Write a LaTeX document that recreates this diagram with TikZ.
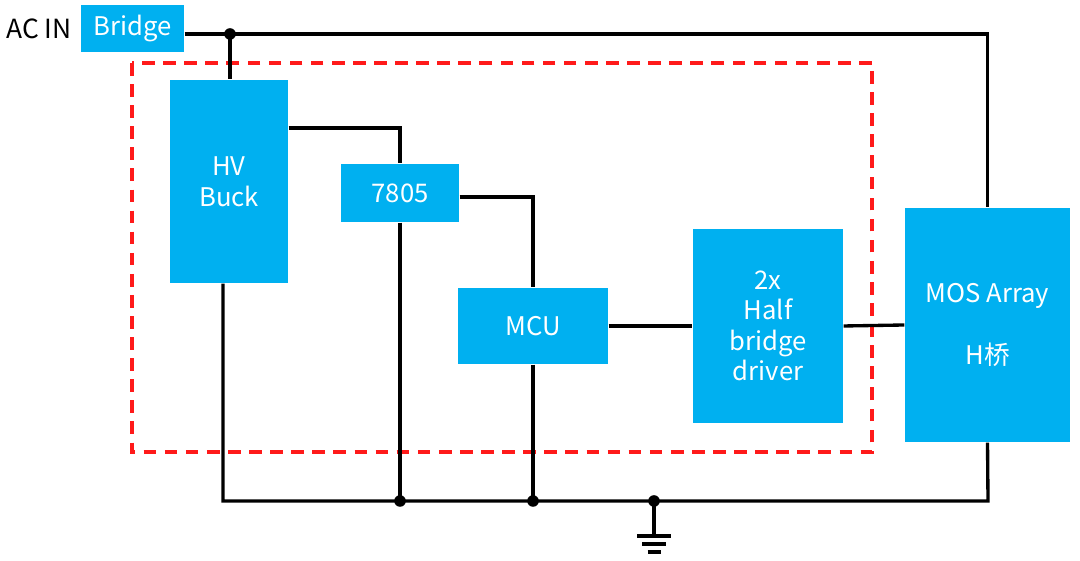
\documentclass[tikz,border=0pt]{standalone}
\usepackage{fontspec}
\setmainfont{Noto Sans CJK SC}
\usetikzlibrary{positioning}
\definecolor{boxblue}{HTML}{00B0F0}
\definecolor{frame}{HTML}{FF1A1A}
\tikzset{
  block/.style={fill=boxblue, text=white, align=center, inner sep=0pt,
    font=\fontsize{7.3}{8.7}\selectfont},
  wire/.style={line width=0.95pt, black},
  jdot/.style={fill=black, radius=0.058},
}

\begin{document}
\begin{tikzpicture}
    \useasboundingbox (0,0) rectangle (10.8,5.61);
    % dashed frame around the control board
    \draw[frame, line width=0.9pt, dash pattern=on 3.6pt off 2.4pt] (1.32,4.98) rectangle (8.72,1.09);

    % blocks
    \node[block, minimum width=1.03cm, minimum height=0.47cm] (bridge) at (1.325,5.325) {Bridge};
    \node[left=0.08cm of bridge, inner sep=0pt, font=\fontsize{7.5}{8.7}\selectfont] (acin) {AC IN};
    \node[block, minimum width=1.18cm, minimum height=2.03cm] (buck) at (2.29,3.795) {HV\\Buck};
    \node[block, minimum width=1.18cm, minimum height=0.58cm] (reg) at (4.00,3.68) {7805};
    \node[block, minimum width=1.50cm, minimum height=0.76cm] (mcu) at (5.33,2.35) {MCU};
    \node[block, minimum width=1.50cm, minimum height=1.94cm] (drv) at (7.68,2.35) {2x\\Half\\bridge\\driver};
    \node[block, minimum width=1.65cm, minimum height=2.34cm] (mos) at (9.875,2.36) {MOS Array\\[8.7pt]H桥};

    % rails
    \coordinate (jtop) at (2.30,5.27);
    \coordinate (gl) at (2.23,0.60);
    \coordinate (gr) at (9.88,0.60);
    \coordinate (gnd) at (6.54,0.60);

    % supply
    \draw[wire] (bridge.east |- jtop) -- (jtop) -| (mos.north);
    \draw[wire] (jtop) -- (jtop |- buck.north);
    \draw[wire] (buck.east |- 0,4.33) -| (reg.north);
    \draw[wire] (reg.east |- 0,3.64) -| (mcu.north);

    % signal
    \draw[wire] (mcu.east) -- (drv.west);
    \draw[wire] (drv.east) -- (mos.west);

    % ground
    \draw[wire] (gl |- buck.south) -- (gl) -- (gr) -- (mos.south);
    \draw[wire] (reg.south) -- (reg.south |- gl);
    \draw[wire] (mcu.south) -- (mcu.south |- gl);
    \draw[wire] (gnd) -- ++(0,-0.35) coordinate (gsym);
    \draw[wire] ([xshift=-0.17cm]gsym) -- ([xshift=0.17cm]gsym);
    \draw[wire] ([xshift=-0.12cm,yshift=-0.08cm]gsym) -- ([xshift=0.12cm,yshift=-0.08cm]gsym);
    \draw[wire] ([xshift=-0.065cm,yshift=-0.16cm]gsym) -- ([xshift=0.065cm,yshift=-0.16cm]gsym);

    % junctions
    \fill (jtop) circle[jdot];
    \fill (reg.south |- gl) circle[jdot];
    \fill (mcu.south |- gl) circle[jdot];
    \fill (gnd) circle[jdot];
\end{tikzpicture}
\end{document}
